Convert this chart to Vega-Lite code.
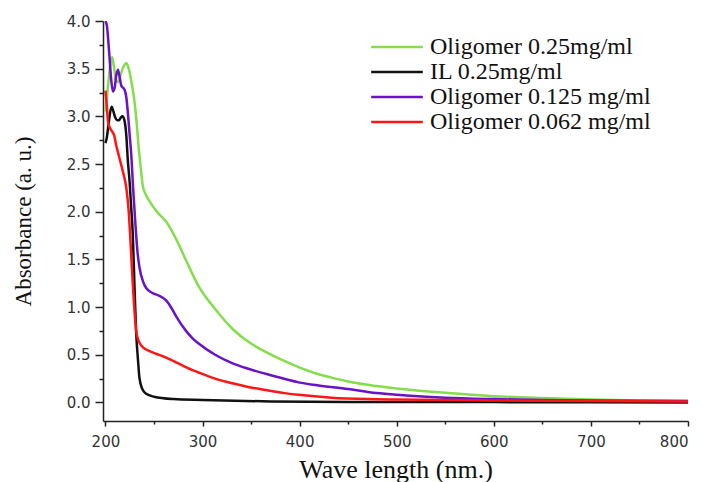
{
  "$schema": "https://vega.github.io/schema/vega-lite/v6.json",
  "width": 585,
  "height": 400,
  "autosize": {"type": "none"},
  "padding": {"left": 103, "top": 21, "right": 23, "bottom": 61},
  "background": "white",
  "config": {"view": {"stroke": null}},
  "datasets": {
    "spectra": [
      {"sample": "Oligomer 0.25mg/ml", "wl": 200, "abs": 3.05},
      {"sample": "Oligomer 0.25mg/ml", "wl": 203, "abs": 3.35},
      {"sample": "Oligomer 0.25mg/ml", "wl": 205.5, "abs": 3.58},
      {"sample": "Oligomer 0.25mg/ml", "wl": 207, "abs": 3.62},
      {"sample": "Oligomer 0.25mg/ml", "wl": 209, "abs": 3.5},
      {"sample": "Oligomer 0.25mg/ml", "wl": 211, "abs": 3.38},
      {"sample": "Oligomer 0.25mg/ml", "wl": 213, "abs": 3.36},
      {"sample": "Oligomer 0.25mg/ml", "wl": 216, "abs": 3.45},
      {"sample": "Oligomer 0.25mg/ml", "wl": 219, "abs": 3.53},
      {"sample": "Oligomer 0.25mg/ml", "wl": 221.5, "abs": 3.56},
      {"sample": "Oligomer 0.25mg/ml", "wl": 224, "abs": 3.5},
      {"sample": "Oligomer 0.25mg/ml", "wl": 227, "abs": 3.35},
      {"sample": "Oligomer 0.25mg/ml", "wl": 230, "abs": 3.15},
      {"sample": "Oligomer 0.25mg/ml", "wl": 232, "abs": 2.95},
      {"sample": "Oligomer 0.25mg/ml", "wl": 234, "abs": 2.7},
      {"sample": "Oligomer 0.25mg/ml", "wl": 236.5, "abs": 2.45},
      {"sample": "Oligomer 0.25mg/ml", "wl": 238.5, "abs": 2.27},
      {"sample": "Oligomer 0.25mg/ml", "wl": 242, "abs": 2.17},
      {"sample": "Oligomer 0.25mg/ml", "wl": 246, "abs": 2.1},
      {"sample": "Oligomer 0.25mg/ml", "wl": 253, "abs": 2.0},
      {"sample": "Oligomer 0.25mg/ml", "wl": 263, "abs": 1.89},
      {"sample": "Oligomer 0.25mg/ml", "wl": 273, "abs": 1.71},
      {"sample": "Oligomer 0.25mg/ml", "wl": 283, "abs": 1.49},
      {"sample": "Oligomer 0.25mg/ml", "wl": 297, "abs": 1.2},
      {"sample": "Oligomer 0.25mg/ml", "wl": 313, "abs": 0.98},
      {"sample": "Oligomer 0.25mg/ml", "wl": 331, "abs": 0.77},
      {"sample": "Oligomer 0.25mg/ml", "wl": 348, "abs": 0.63},
      {"sample": "Oligomer 0.25mg/ml", "wl": 365, "abs": 0.53},
      {"sample": "Oligomer 0.25mg/ml", "wl": 383, "abs": 0.44},
      {"sample": "Oligomer 0.25mg/ml", "wl": 399, "abs": 0.37},
      {"sample": "Oligomer 0.25mg/ml", "wl": 418, "abs": 0.3},
      {"sample": "Oligomer 0.25mg/ml", "wl": 433, "abs": 0.26},
      {"sample": "Oligomer 0.25mg/ml", "wl": 450, "abs": 0.22},
      {"sample": "Oligomer 0.25mg/ml", "wl": 470, "abs": 0.185},
      {"sample": "Oligomer 0.25mg/ml", "wl": 500, "abs": 0.145},
      {"sample": "Oligomer 0.25mg/ml", "wl": 550, "abs": 0.1},
      {"sample": "Oligomer 0.25mg/ml", "wl": 600, "abs": 0.065},
      {"sample": "Oligomer 0.25mg/ml", "wl": 650, "abs": 0.045},
      {"sample": "Oligomer 0.25mg/ml", "wl": 700, "abs": 0.03},
      {"sample": "Oligomer 0.25mg/ml", "wl": 750, "abs": 0.02},
      {"sample": "Oligomer 0.25mg/ml", "wl": 800, "abs": 0.015},

      {"sample": "IL 0.25mg/ml", "wl": 200, "abs": 2.72},
      {"sample": "IL 0.25mg/ml", "wl": 201.5, "abs": 2.78},
      {"sample": "IL 0.25mg/ml", "wl": 203, "abs": 2.9},
      {"sample": "IL 0.25mg/ml", "wl": 205, "abs": 3.05},
      {"sample": "IL 0.25mg/ml", "wl": 206.5, "abs": 3.1},
      {"sample": "IL 0.25mg/ml", "wl": 208, "abs": 3.06},
      {"sample": "IL 0.25mg/ml", "wl": 210, "abs": 2.99},
      {"sample": "IL 0.25mg/ml", "wl": 212, "abs": 2.96},
      {"sample": "IL 0.25mg/ml", "wl": 214, "abs": 2.96},
      {"sample": "IL 0.25mg/ml", "wl": 216, "abs": 2.99},
      {"sample": "IL 0.25mg/ml", "wl": 217.5, "abs": 3.0},
      {"sample": "IL 0.25mg/ml", "wl": 219.5, "abs": 2.96},
      {"sample": "IL 0.25mg/ml", "wl": 221.5, "abs": 2.8},
      {"sample": "IL 0.25mg/ml", "wl": 223, "abs": 2.55},
      {"sample": "IL 0.25mg/ml", "wl": 225, "abs": 2.3},
      {"sample": "IL 0.25mg/ml", "wl": 226.5, "abs": 2.05},
      {"sample": "IL 0.25mg/ml", "wl": 228.2, "abs": 1.76},
      {"sample": "IL 0.25mg/ml", "wl": 230, "abs": 1.2},
      {"sample": "IL 0.25mg/ml", "wl": 231.7, "abs": 0.72},
      {"sample": "IL 0.25mg/ml", "wl": 233.5, "abs": 0.45},
      {"sample": "IL 0.25mg/ml", "wl": 235, "abs": 0.26},
      {"sample": "IL 0.25mg/ml", "wl": 238, "abs": 0.14},
      {"sample": "IL 0.25mg/ml", "wl": 242, "abs": 0.09},
      {"sample": "IL 0.25mg/ml", "wl": 250, "abs": 0.06},
      {"sample": "IL 0.25mg/ml", "wl": 270, "abs": 0.035},
      {"sample": "IL 0.25mg/ml", "wl": 300, "abs": 0.025},
      {"sample": "IL 0.25mg/ml", "wl": 370, "abs": 0.01},
      {"sample": "IL 0.25mg/ml", "wl": 450, "abs": 0.005},
      {"sample": "IL 0.25mg/ml", "wl": 600, "abs": 0.003},
      {"sample": "IL 0.25mg/ml", "wl": 800, "abs": 0.0},

      {"sample": "Oligomer 0.125 mg/ml", "wl": 200, "abs": 4.0},
      {"sample": "Oligomer 0.125 mg/ml", "wl": 201.5, "abs": 3.95},
      {"sample": "Oligomer 0.125 mg/ml", "wl": 204, "abs": 3.65},
      {"sample": "Oligomer 0.125 mg/ml", "wl": 206, "abs": 3.38},
      {"sample": "Oligomer 0.125 mg/ml", "wl": 207.7, "abs": 3.26},
      {"sample": "Oligomer 0.125 mg/ml", "wl": 209.5, "abs": 3.3},
      {"sample": "Oligomer 0.125 mg/ml", "wl": 211, "abs": 3.42},
      {"sample": "Oligomer 0.125 mg/ml", "wl": 212.9, "abs": 3.49},
      {"sample": "Oligomer 0.125 mg/ml", "wl": 214.5, "abs": 3.42},
      {"sample": "Oligomer 0.125 mg/ml", "wl": 216.4, "abs": 3.32},
      {"sample": "Oligomer 0.125 mg/ml", "wl": 219.7, "abs": 3.28},
      {"sample": "Oligomer 0.125 mg/ml", "wl": 221.5, "abs": 3.2},
      {"sample": "Oligomer 0.125 mg/ml", "wl": 223, "abs": 3.05},
      {"sample": "Oligomer 0.125 mg/ml", "wl": 224.9, "abs": 2.81},
      {"sample": "Oligomer 0.125 mg/ml", "wl": 226.6, "abs": 2.6},
      {"sample": "Oligomer 0.125 mg/ml", "wl": 228.5, "abs": 2.25},
      {"sample": "Oligomer 0.125 mg/ml", "wl": 231, "abs": 1.85},
      {"sample": "Oligomer 0.125 mg/ml", "wl": 233, "abs": 1.58},
      {"sample": "Oligomer 0.125 mg/ml", "wl": 235, "abs": 1.42},
      {"sample": "Oligomer 0.125 mg/ml", "wl": 239, "abs": 1.26},
      {"sample": "Oligomer 0.125 mg/ml", "wl": 242, "abs": 1.2},
      {"sample": "Oligomer 0.125 mg/ml", "wl": 248, "abs": 1.15},
      {"sample": "Oligomer 0.125 mg/ml", "wl": 255, "abs": 1.12},
      {"sample": "Oligomer 0.125 mg/ml", "wl": 262.5, "abs": 1.07},
      {"sample": "Oligomer 0.125 mg/ml", "wl": 268, "abs": 0.99},
      {"sample": "Oligomer 0.125 mg/ml", "wl": 273, "abs": 0.9},
      {"sample": "Oligomer 0.125 mg/ml", "wl": 283, "abs": 0.75},
      {"sample": "Oligomer 0.125 mg/ml", "wl": 290, "abs": 0.67},
      {"sample": "Oligomer 0.125 mg/ml", "wl": 297, "abs": 0.61},
      {"sample": "Oligomer 0.125 mg/ml", "wl": 313, "abs": 0.5},
      {"sample": "Oligomer 0.125 mg/ml", "wl": 331, "abs": 0.41},
      {"sample": "Oligomer 0.125 mg/ml", "wl": 348, "abs": 0.35},
      {"sample": "Oligomer 0.125 mg/ml", "wl": 365, "abs": 0.3},
      {"sample": "Oligomer 0.125 mg/ml", "wl": 383, "abs": 0.25},
      {"sample": "Oligomer 0.125 mg/ml", "wl": 399, "abs": 0.21},
      {"sample": "Oligomer 0.125 mg/ml", "wl": 418, "abs": 0.18},
      {"sample": "Oligomer 0.125 mg/ml", "wl": 450, "abs": 0.14},
      {"sample": "Oligomer 0.125 mg/ml", "wl": 470, "abs": 0.11},
      {"sample": "Oligomer 0.125 mg/ml", "wl": 500, "abs": 0.08},
      {"sample": "Oligomer 0.125 mg/ml", "wl": 550, "abs": 0.05},
      {"sample": "Oligomer 0.125 mg/ml", "wl": 600, "abs": 0.035},
      {"sample": "Oligomer 0.125 mg/ml", "wl": 650, "abs": 0.025},
      {"sample": "Oligomer 0.125 mg/ml", "wl": 700, "abs": 0.02},
      {"sample": "Oligomer 0.125 mg/ml", "wl": 800, "abs": 0.015},

      {"sample": "Oligomer 0.062 mg/ml", "wl": 200, "abs": 3.27},
      {"sample": "Oligomer 0.062 mg/ml", "wl": 201.5, "abs": 3.1},
      {"sample": "Oligomer 0.062 mg/ml", "wl": 202.6, "abs": 2.95},
      {"sample": "Oligomer 0.062 mg/ml", "wl": 204.5, "abs": 2.88},
      {"sample": "Oligomer 0.062 mg/ml", "wl": 207, "abs": 2.84},
      {"sample": "Oligomer 0.062 mg/ml", "wl": 209, "abs": 2.8},
      {"sample": "Oligomer 0.062 mg/ml", "wl": 211, "abs": 2.7},
      {"sample": "Oligomer 0.062 mg/ml", "wl": 213, "abs": 2.62},
      {"sample": "Oligomer 0.062 mg/ml", "wl": 215, "abs": 2.54},
      {"sample": "Oligomer 0.062 mg/ml", "wl": 218, "abs": 2.42},
      {"sample": "Oligomer 0.062 mg/ml", "wl": 221.5, "abs": 2.25},
      {"sample": "Oligomer 0.062 mg/ml", "wl": 224, "abs": 2.0},
      {"sample": "Oligomer 0.062 mg/ml", "wl": 226, "abs": 1.65},
      {"sample": "Oligomer 0.062 mg/ml", "wl": 228.2, "abs": 1.24},
      {"sample": "Oligomer 0.062 mg/ml", "wl": 230, "abs": 0.95},
      {"sample": "Oligomer 0.062 mg/ml", "wl": 231.7, "abs": 0.75},
      {"sample": "Oligomer 0.062 mg/ml", "wl": 234, "abs": 0.65},
      {"sample": "Oligomer 0.062 mg/ml", "wl": 238.5, "abs": 0.58},
      {"sample": "Oligomer 0.062 mg/ml", "wl": 245, "abs": 0.54},
      {"sample": "Oligomer 0.062 mg/ml", "wl": 252, "abs": 0.51},
      {"sample": "Oligomer 0.062 mg/ml", "wl": 260, "abs": 0.48},
      {"sample": "Oligomer 0.062 mg/ml", "wl": 273, "abs": 0.42},
      {"sample": "Oligomer 0.062 mg/ml", "wl": 285, "abs": 0.36},
      {"sample": "Oligomer 0.062 mg/ml", "wl": 297, "abs": 0.31},
      {"sample": "Oligomer 0.062 mg/ml", "wl": 313, "abs": 0.25},
      {"sample": "Oligomer 0.062 mg/ml", "wl": 331, "abs": 0.2},
      {"sample": "Oligomer 0.062 mg/ml", "wl": 348, "abs": 0.16},
      {"sample": "Oligomer 0.062 mg/ml", "wl": 365, "abs": 0.13},
      {"sample": "Oligomer 0.062 mg/ml", "wl": 383, "abs": 0.1},
      {"sample": "Oligomer 0.062 mg/ml", "wl": 399, "abs": 0.08},
      {"sample": "Oligomer 0.062 mg/ml", "wl": 433, "abs": 0.05},
      {"sample": "Oligomer 0.062 mg/ml", "wl": 470, "abs": 0.035},
      {"sample": "Oligomer 0.062 mg/ml", "wl": 500, "abs": 0.03},
      {"sample": "Oligomer 0.062 mg/ml", "wl": 550, "abs": 0.025},
      {"sample": "Oligomer 0.062 mg/ml", "wl": 600, "abs": 0.02},
      {"sample": "Oligomer 0.062 mg/ml", "wl": 700, "abs": 0.015},
      {"sample": "Oligomer 0.062 mg/ml", "wl": 800, "abs": 0.01}
    ]
  },
  "data": {"name": "spectra"},
  "mark": {"type": "line", "strokeWidth": 2.5, "interpolate": "monotone", "clip": true},
  "encoding": {
    "x": {
      "field": "wl",
      "type": "quantitative",
      "scale": {"domain": [197.5, 800], "nice": false, "zero": false},
      "axis": {
        "title": "Wave length (nm.)",
        "values": [200, 250, 300, 350, 400, 450, 500, 550, 600, 650, 700, 750, 800],
        "labelExpr": "datum.value % 100 === 0 ? format(datum.value, 'd') : ''",
        "labelOverlap": false,
        "grid": false,
        "domainColor": "#222222",
        "domainWidth": 1.5,
        "tickColor": "#222222",
        "tickWidth": 1.5,
        "tickSize": {"condition": {"test": "datum.value % 100 === 0", "value": 5}, "value": 3},
        "labelFont": "DejaVu Sans",
        "labelFontSize": 15,
        "labelColor": "#333333",
        "labelPadding": 8,
        "titleFont": "Liberation Serif",
        "titleFontSize": 26,
        "titleFontWeight": "normal",
        "titleColor": "#111111",
        "titleY": 56,
        "titleBaseline": "alphabetic"
      }
    },
    "y": {
      "field": "abs",
      "type": "quantitative",
      "scale": {"domain": [-0.195, 4.0], "nice": false, "zero": false},
      "axis": {
        "title": "Absorbance (a. u.)",
        "values": [0, 0.25, 0.5, 0.75, 1, 1.25, 1.5, 1.75, 2, 2.25, 2.5, 2.75, 3, 3.25, 3.5, 3.75, 4],
        "labelExpr": "datum.value % 0.5 === 0 ? format(datum.value, '.1f') : ''",
        "labelOverlap": false,
        "grid": false,
        "domainColor": "#222222",
        "domainWidth": 1.5,
        "tickColor": "#222222",
        "tickWidth": 1.5,
        "tickSize": {"condition": {"test": "datum.value % 0.5 === 0", "value": 8}, "value": 4},
        "labelFont": "DejaVu Sans",
        "labelFontSize": 15,
        "labelColor": "#333333",
        "labelPadding": 5,
        "titleFont": "Liberation Serif",
        "titleFontSize": 23,
        "titleFontWeight": "normal",
        "titleColor": "#111111",
        "titlePadding": 31
      }
    },
    "color": {
      "field": "sample",
      "type": "nominal",
      "scale": {
        "domain": ["Oligomer 0.25mg/ml", "IL 0.25mg/ml", "Oligomer 0.125 mg/ml", "Oligomer 0.062 mg/ml"],
        "range": ["#84dd4a", "#111111", "#6a12c8", "#ff1515"]
      },
      "legend": {
        "title": null,
        "orient": "none",
        "legendX": 282,
        "legendY": 14,
        "symbolType": "M-4.3,0H4.3",
        "symbolSize": 144,
        "symbolStrokeWidth": 2.5,
        "labelFont": "Liberation Serif",
        "labelFontSize": 24,
        "labelColor": "#111111",
        "labelOffset": 21,
        "labelLimit": 400,
        "rowPadding": 1
      }
    }
  }
}
